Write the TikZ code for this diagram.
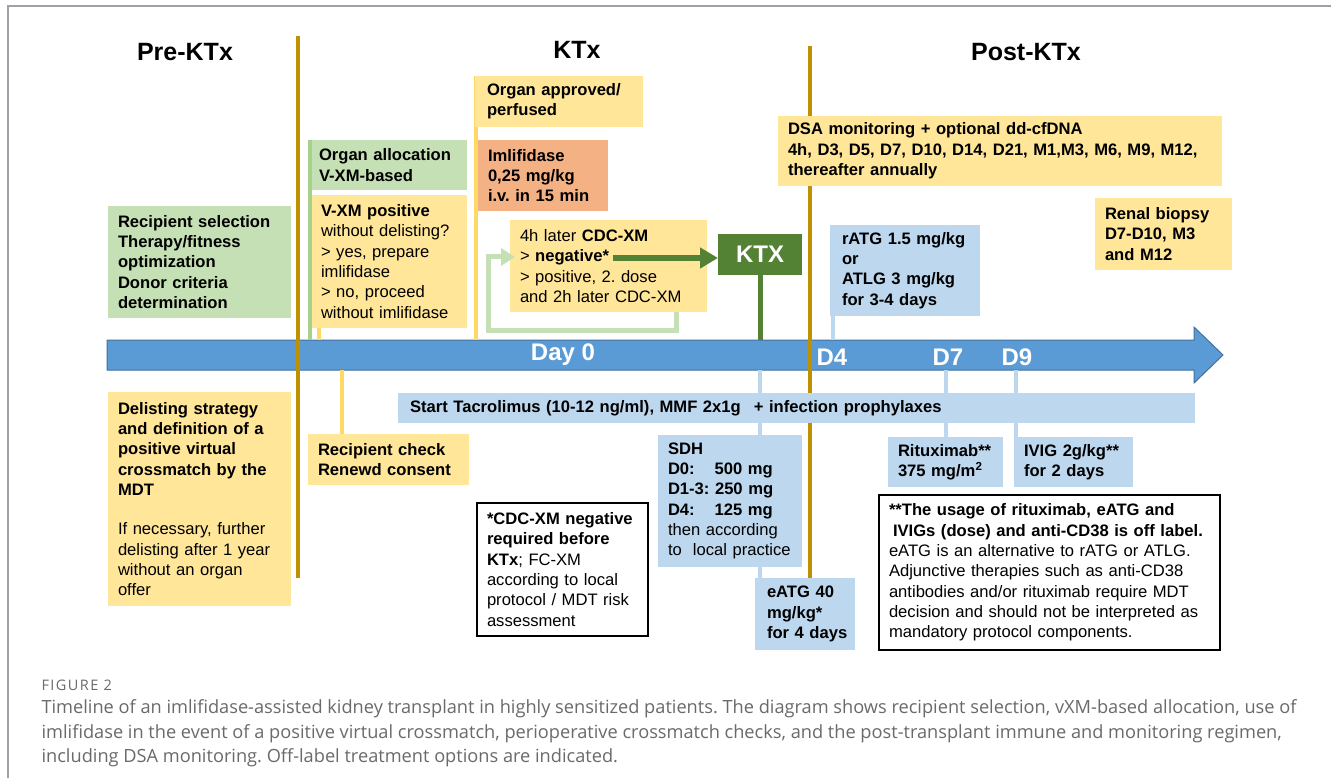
\documentclass[tikz,border=0pt]{standalone}
\usepackage{fontspec}
\setmainfont{Liberation Sans}
\newfontfamily\capfont{Open Sans}
\newfontfamily\figfont[LetterSpace=10]{Open Sans}
\usetikzlibrary{arrows.meta}
\pgfdeclarelayer{bg}
\pgfsetlayers{bg,main}
\frenchspacing
\definecolor{ylw}{HTML}{FFE699}
\definecolor{ylwline}{HTML}{FFD966}
\definecolor{grn}{HTML}{C5E0B4}
\definecolor{grnline}{HTML}{A9D18E}
\definecolor{blu}{HTML}{BDD7EE}
\definecolor{org}{HTML}{F4B183}
\definecolor{dgrn}{HTML}{548235}
\definecolor{gold}{HTML}{BF9000}
\definecolor{axisfill}{HTML}{5B9BD5}
\definecolor{axisedge}{HTML}{41719C}
\definecolor{capgray}{HTML}{6A6A6A}
\definecolor{framegray}{HTML}{A0A0A8}
\newcommand\txtsz{\fontsize{16.6}{20.3}\selectfont}
\begin{document}
\begin{tikzpicture}[x=1pt, y=-1pt,
  box/.style={rectangle, anchor=north west, inner ysep=0pt, inner xsep=10pt, outer sep=0pt, align=left, font=\txtsz, text=black},
  bf/.style={font=\txtsz\bfseries},
  ybox/.style={box, fill=ylw},
  gbox/.style={box, fill=grn},
  bbox/.style={box, fill=blu},
  obox/.style={box, fill=org},
  notebox/.style={box, fill=white, draw=black, line width=1.3pt},
  head/.style={font=\fontsize{25}{30}\selectfont\bfseries},
  axlab/.style={font=\fontsize{24}{28}\selectfont\bfseries, text=white},
  goldline/.style={draw=gold, line width=4pt},
  yline/.style={draw=ylwline, line width=4pt},
  gline/.style={draw=grnline, line width=4pt},
  bline/.style={draw=blu, line width=4pt},
  capline/.style={anchor=base west, font=\capfont\fontsize{18.2}{22}\selectfont, text=capgray}
]
\useasboundingbox (0,0) rectangle (1331,778);

% headers
\node[head] (hpre) at (185,52) {Pre-KTx};
\node[head] (hktx) at (577,50) {KTx};
\node[head] (hpost) at (1026,52) {Post-KTx};

% upper boxes
\node[gbox, bf, text width=163pt, minimum height=112pt] (rsel) at (108,206)
  {Recipient selection\\Therapy/fitness\\optimization\\Donor criteria\\determination};
\node[gbox, bf, inner xsep=7pt, text width=141pt, minimum height=50pt] (alloc) at (312,140)
  {Organ allocation\\V-XM-based};
\node[ybox, inner xsep=9pt, text width=137pt, minimum height=133pt] (vxm) at (312,195)
  {\textbf{V-XM positive}\\without delisting?\\> yes, prepare\\imlifidase\\> no, proceed\\\mbox{without imlifidase}};
\node[ybox, bf, inner xsep=12pt, text width=144pt, minimum height=51pt] (appr) at (475,76)
  {Organ approved/\\perfused};
\node[obox, bf, text width=110pt, minimum height=71pt] (imli) at (478,140)
  {Imlifidase\\0,25 mg/kg\\\mbox{i.v. in 15 min}};
\node[ybox, text width=177pt, minimum height=92pt] (cdc) at (510,220)
  {4h later \textbf{CDC-XM}\\> \textbf{negative*}\\> positive, 2. dose\\\mbox{and 2h later CDC-XM}};
\node[rectangle, anchor=north west, fill=dgrn, text=white, font=\fontsize{24}{28}\selectfont\bfseries,
  minimum width=84pt, minimum height=41pt, inner sep=0pt, outer sep=0pt] (ktx) at (718,234) {KTX};
\node[ybox, bf, text width=424pt, minimum height=70pt] (dsa) at (778,116)
  {DSA monitoring + optional dd-cfDNA\\4h, D3, D5, D7, D10, D14, D21, M1,M3, M6, M9, M12,\\thereafter annually};
\node[bbox, bf, inner xsep=12pt, text width=126pt, minimum height=91pt] (ratg) at (830,225)
  {\mbox{rATG 1.5 mg/kg}\\or\\ATLG 3 mg/kg\\for 3-4 days};
\node[ybox, bf, text width=117pt, minimum height=72pt] (renal) at (1095,198)
  {Renal biopsy\\D7-D10, M3\\and M12};

% lower boxes
\node[bbox, bf, inner xsep=12pt, text width=773pt, minimum height=30pt] (tac) at (398,393)
  {Start Tacrolimus (10-12 ng/ml), MMF 2x1g\hspace{13pt}+ infection prophylaxes};
\node[bbox, text width=124pt, minimum height=132pt] (sdh) at (658,435)
  {\textbf{SDH}\\\textbf{\makebox[46.7pt][l]{D0:}500 mg}\\\textbf{D1-3: 250 mg}\\\textbf{\makebox[46.7pt][l]{D4:}125 mg}\\then according\\\mbox{to\ \ local practice}};
\node[bbox, bf, inner xsep=12pt, text width=76pt, minimum height=72pt] (eatg) at (755,578)
  {eATG 40\\mg/kg*\\\mbox{for 4 days}};
\node[notebox, text width=151pt, minimum height=133pt] (cdcnote) at (477,503)
  {\textbf{*CDC-XM negative}\\\textbf{required before}\\\textbf{KTx}; FC-XM\\according to local\\\mbox{protocol / MDT risk}\\assessment};
\node[ybox, bf, text width=141pt, minimum height=51pt] (rchk) at (308,434)
  {Recipient check\\Renewd consent};
\node[ybox, text width=163pt, minimum height=214pt] (delist) at (108,392)
  {\textbf{Delisting strategy}\\\textbf{and definition of a}\\\textbf{positive virtual}\\\textbf{crossmatch by the}\\\textbf{MDT}\\[19pt]If necessary, further\\\mbox{delisting after 1 year}\\without an organ\\offer};
\node[bbox, bf, inner xsep=10pt, text width=95pt, minimum height=50pt] (ritux) at (888,437)
  {\mbox{Rituximab**}\\375 mg/m\textsuperscript{2}};
\node[bbox, bf, text width=99pt, minimum height=50pt] (ivig) at (1014,437)
  {\mbox{IVIG 2g/kg**}\\for 2 days};
\node[notebox, text width=321pt, minimum height=155pt] (offnote) at (879,495)
  {\textbf{**The usage of rituximab, eATG and}\\\textbf{\hspace*{4pt}IVIGs (dose) and anti-CD38 is off label.}\\eATG is an alternative to rATG or ATLG.\\Adjunctive therapies such as anti-CD38\\antibodies and/or rituximab require MDT\\\mbox{decision and should not be interpreted as}\\mandatory protocol components.};

% axis labels
\node[axlab] (day0) at (563,355) {Day 0};
\node[axlab] (d4) at (832,357) {D4};
\node[axlab] (d7) at (948,357) {D7};
\node[axlab] (d9) at (1017,357) {D9};

% coordinates
\coordinate (axtop) at (0,340);
\coordinate (axbot) at (0,370);
\coordinate (neg) at (613,258);
\coordinate (loopc) at (488,330);
\coordinate (sdhx) at (760,370);

% green arrows
\draw[draw=grn, line width=5pt, -{Triangle[width=17pt,length=14pt]}, shorten >=-5pt]
  ([xshift=-31pt]cdc.south east) |- (loopc) |- ([yshift=9pt]cdc.west);
\draw[draw=dgrn, line width=6pt, -{Triangle[width=20pt,length=18pt]}] (neg) -- (neg -| ktx.west);

% caption
\node[anchor=base west, font=\figfont\fontsize{14.5}{17}\selectfont, text=capgray] (fig) at (38,690) {FIGURE 2};
\node[capline] (cap1) at (38,713) {Timeline of an imlifidase-assisted kidney transplant in highly sensitized patients. The diagram shows recipient selection, vXM-based allocation, use of};
\node[capline] (cap2) at (38,738) {imlifidase in the event of a positive virtual crossmatch, perioperative crossmatch checks, and the post-transplant immune and monitoring regimen,};
\node[capline] (cap3) at (38,762) {including DSA monitoring. Off-label treatment options are indicated.};

\begin{pgfonlayer}{bg}
  \fill[white] (0,0) rectangle (1331,778);
  \draw[framegray, line width=1.5pt] (8,778) -- (8,6) -- (1331,6);
  % timeline arrow
  \filldraw[fill=axisfill, draw=axisedge, line width=1pt]
    (107,340) -- (1194,340) -- (1194,327) -- (1223,355) -- (1194,383) -- (1194,370) -- (107,370) -- cycle;
  % gold separators
  \draw[goldline] (298,36) -- (298,578);
  \draw[goldline] (810,46) -- (810,640);
  % connectors to the axis
  \draw[gline] ([xshift=-2pt]alloc.north west) -- ([xshift=-2pt]alloc.north west |- axtop);
  \draw[yline] ([xshift=7pt]vxm.south west) -- ([xshift=7pt]vxm.south west |- axtop);
  \draw[yline] ([xshift=1pt]appr.north west) -- ([xshift=1pt]appr.north west |- axtop);
  \draw[draw=dgrn, line width=5pt] (ktx.south) -- (ktx.south |- axtop);
  \draw[bline] ([xshift=3pt]ratg.south west) -- ([xshift=3pt]ratg.south west |- axtop);
  \draw[yline] ([xshift=34pt]rchk.north west) -- ([xshift=34pt]rchk.north west |- axbot);
  \draw[bline] (sdhx) -- (sdhx |- eatg.north);
  \draw[bline] (ritux.north) -- (ritux.north |- axbot);
  \draw[bline] ([xshift=2pt]ivig.north west) -- ([xshift=2pt]ivig.north west |- axbot);
\end{pgfonlayer}
\end{tikzpicture}
\end{document}
